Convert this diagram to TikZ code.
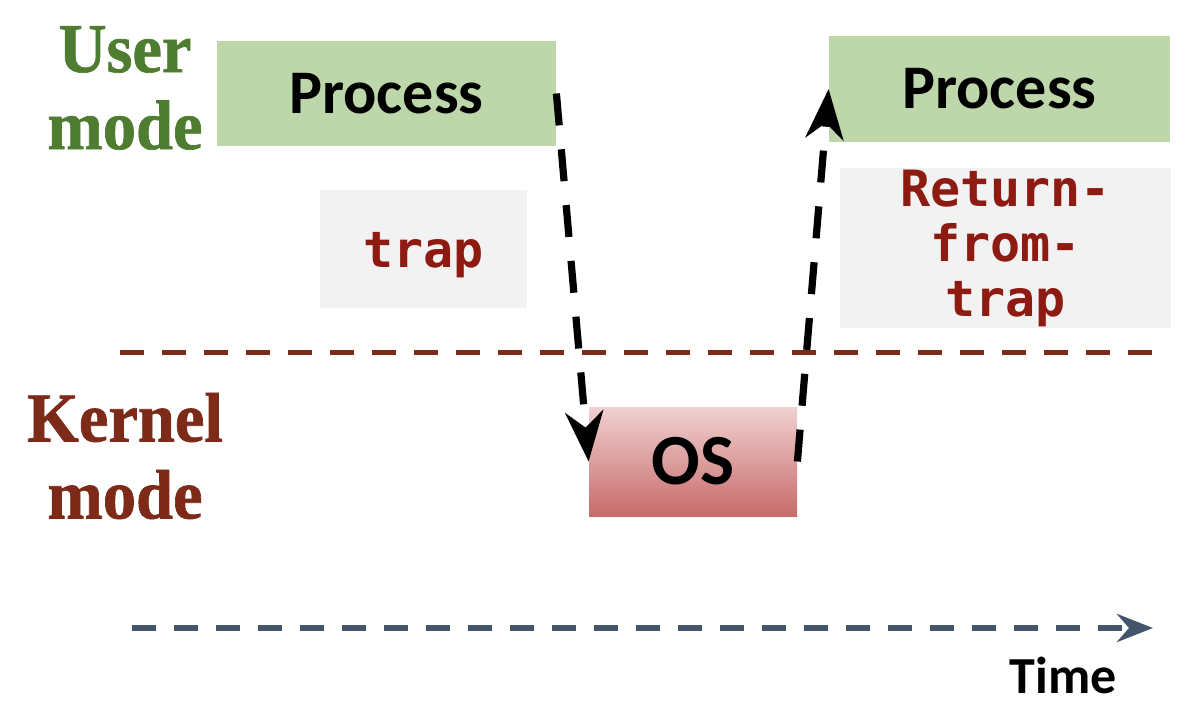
\documentclass[tikz,border=0pt]{standalone}
\usepackage{fontspec}
\usetikzlibrary{arrows.meta}
\newfontfamily\calfont{Carlito}
\newfontfamily\modefont{Liberation Serif}[FakeStretch=0.95,FakeBold=1]
\newfontfamily\codefont{DejaVu Sans Mono}
\definecolor{usergreen}{HTML}{4E7D31}
\definecolor{kernelred}{HTML}{7D2A19}
\definecolor{procgreen}{HTML}{BDD7AA}
\definecolor{codegray}{HTML}{F2F2F2}
\definecolor{codered}{HTML}{8E1B12}
\definecolor{ostop}{HTML}{F0D1D1}
\definecolor{osbottom}{HTML}{C86A6A}
\definecolor{timeblue}{HTML}{44546A}
\tikzset{
  procbox/.style={fill=procgreen, draw=none, inner sep=0pt,
    font=\calfont\bfseries\fontsize{31}{36}\selectfont, text=black},
  codebox/.style={fill=codegray, draw=none, inner sep=0pt, text=codered, align=center},
  osbox/.style={top color=ostop, bottom color=osbottom, draw=none, inner sep=0pt,
    font=\calfont\bfseries\fontsize{36}{40}\selectfont, text=black},
  modelabel/.style={font=\modefont\bfseries\fontsize{35}{38.5}\selectfont, align=center, inner sep=0pt},
  flow/.style={line width=3.6pt, black, dash pattern=on 16pt off 12pt,
    -{Stealth[length=25pt,width=19pt,inset=8pt]}},
  boundary/.style={line width=2.5pt, kernelred, dash pattern=on 12pt off 9pt},
  timeline/.style={line width=3pt, timeblue, dash pattern=on 12pt off 9pt,
    -{Stealth[length=18pt,width=14pt,inset=6pt]}}
}
\begin{document}
\begin{tikzpicture}[x=0.5pt,y=-0.5pt]
\useasboundingbox (0,0) rectangle (1184,712);
% mode labels
\node[modelabel, text=usergreen] (user) at (125,88) {User\\mode};
\node[modelabel, text=kernelred] (kernel) at (125,456) {Kernel\\mode};
% boxes
\node[procbox, minimum width=169.5pt, minimum height=52.5pt] (p1) at (386.5,93.5) {Process};
\node[procbox, minimum width=170.5pt, minimum height=53pt] (p2) at (999.5,89) {Process};
\node[codebox, minimum width=103.5pt, minimum height=59pt, text height=22pt, text depth=4pt,
  font=\codefont\bfseries\fontsize{25}{27.5}\selectfont] (trap) at (423.5,249) {trap};
\node[codebox, minimum width=165.5pt, minimum height=80pt,
  font=\codefont\bfseries\fontsize{25}{27.5}\selectfont] (ret) at (1005.5,248) {Return-\\from-\\trap};
\node[osbox, minimum width=104pt, minimum height=54.5pt] (os) at (693,461.5) {OS};
% boundary line
\coordinate (b0) at (120,352);
\coordinate (b1) at (1157,352);
\draw[boundary] (b0) -- (b1);
% transitions
\draw[flow] (p1.east) -- (os.west);
\draw[flow] (os.east) -- (p2.west);
% time axis
\coordinate (t0) at (132,628);
\coordinate (t1) at (1153,628);
\draw[timeline] (t0) -- (t1);
\node[font=\calfont\bfseries\fontsize{26}{30}\selectfont, inner sep=0pt] (time) at (1063,675) {Time};
\end{tikzpicture}
\end{document}
